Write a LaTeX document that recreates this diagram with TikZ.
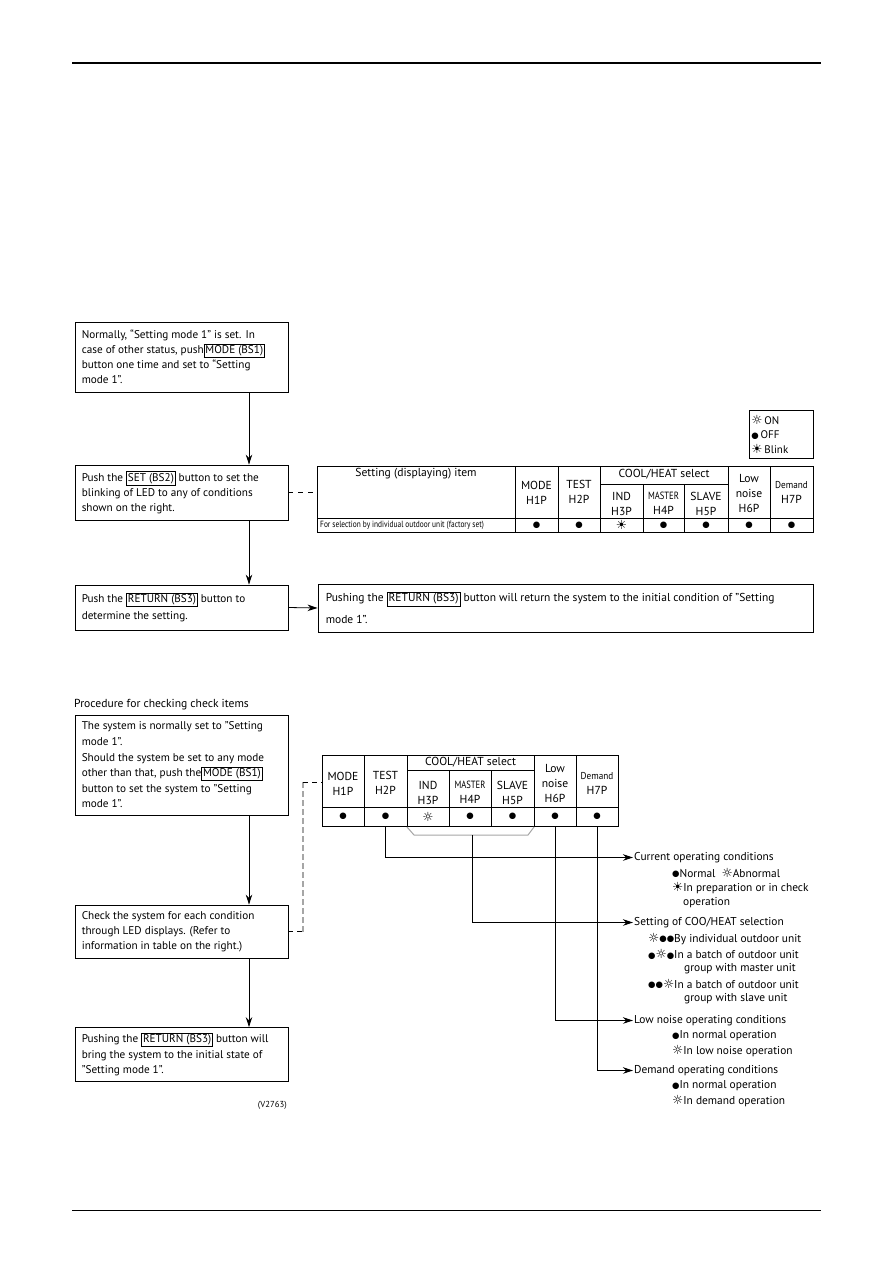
\documentclass[tikz,border=0pt]{standalone}
\usepackage{fontspec}
\setmainfont{PT Sans}
\newfontfamily\symf{DejaVu Sans}
\usetikzlibrary{arrows.meta}
\newcommand\onS{{\symf\fontsize{12.5}{12.5}\selectfont ☼}}
\newcommand\offS{\raisebox{0.6pt}{\symf\fontsize{8.5}{8.5}\selectfont ●}}
\newcommand\blinkS{{\symf\fontsize{12.5}{12.5}\selectfont ☀}}
\newcommand\btn[1]{{\setlength\fboxsep{1.2pt}\setlength\fboxrule{0.6pt}\fbox{#1}}}
\newcommand\cond[2]{\scalebox{#1}[1]{#2}}
\begin{document}
\begin{tikzpicture}[x=1pt,y=-1pt,
  boxr/.style={draw, line width=0.9pt, minimum width=213pt, inner sep=0pt},
  btext/.style={anchor=west, inner sep=0pt, align=left, font=\fontsize{11.2}{15}\selectfont},
  arr/.style={-{Stealth[length=10pt,width=6.5pt]}, line width=0.8pt},
  tl/.style={line width=0.7pt},
  hd/.style={align=center, inner sep=0pt, font=\fontsize{11.6}{15}\selectfont},
  cell/.style={minimum width=42pt, minimum height=19pt, inner sep=0pt},
  lab/.style={anchor=west, inner sep=1pt, font=\fontsize{11.4}{15}\selectfont},
  sub/.style={anchor=west, inner sep=0pt, font=\fontsize{11.4}{15}\selectfont}]
\useasboundingbox (0,0) rectangle (893,1263);
\fill[white] (0,0) rectangle (893,1263);
% page rules
\draw[line width=1.2pt] (72,63) -- (821,63);
\draw[line width=0.8pt] (72,1210) -- (821,1210);

% ---- Section 1 ----
\node[boxr, minimum height=70pt] (b1) at (181.5,357) {};
\node[btext] (b1t) at ([xshift=7pt]b1.west) {Normally, “Setting mode 1” is set. In\\case of other status, push\btn{MODE (BS1)}\\button one time and set to “Setting\\mode 1”.};
\node[boxr, minimum height=55pt] (b2) at (181.5,492.5) {};
\node[btext] (b2t) at ([xshift=7pt]b2.west) {Push the \btn{SET (BS2)} button to set the\\blinking of LED to any of conditions\\shown on the right.};
\node[boxr, minimum height=45pt] (b3) at (181.5,607.5) {};
\node[btext, font=\fontsize{11.2}{17}\selectfont] (b3t) at ([xshift=7pt]b3.west) {Push the \btn{RETURN (BS3)} button to\\determine the setting.};
\node[boxr, minimum width=495pt, minimum height=48pt] (b4) at (565.5,608) {};
\node[btext, font=\fontsize{11.5}{22}\selectfont] (b4t) at ([xshift=8pt]b4.west) {Pushing the \btn{RETURN (BS3)} button will return the system to the initial condition of "Setting\\mode 1".};
\draw[arr] ([xshift=67.5pt]b1.south) -- ([xshift=67.5pt]b2.north);
\draw[arr] ([xshift=67.5pt]b2.south) -- ([xshift=67.5pt]b3.north);
\draw[arr] (b3.east) -- (b4.west);

% legend
\node[draw, line width=0.7pt, anchor=north west, minimum width=64pt, minimum height=48pt, text width=60pt, inner sep=2pt, align=left, font=\fontsize{11}{14.2}\selectfont] (leg) at (749,410) {\onS\,ON\\\offS\,OFF\\\blinkS\,Blink};

% table 1
\node[draw, tl, anchor=north west, minimum width=496pt, minimum height=66pt, inner sep=0pt] (t1) at (317,466) {};
\draw[tl] (317,518) -- (813,518);
\foreach \x in {515,558,600,728,770} \draw[tl] (\x,466) -- (\x,532);
\foreach \x in {643,684} \draw[tl] (\x,484) -- (\x,532);
\draw[tl] (600,484) -- (728,484);
\draw[dashed, dash pattern=on 5pt off 5pt, line width=0.7pt] (b2.east) -- (b2.east -| t1.west);
\node[hd] (h1a) at (416,474) {Setting (displaying) item};
\node[hd] (h1b) at (536.5,493) {MODE\\H1P};
\node[hd] (h1c) at (579,492) {TEST\\H2P};
\node[hd] (h1d) at (664,474.5) {COOL/HEAT select};
\node[hd] (h1e) at (621.5,503.5) {IND\\H3P};
\node[hd] (h1f) at (663.5,503.5) {\cond{0.82}{\fontsize{10.5}{15}\selectfont MASTER}\\H4P};
\node[hd] (h1g) at (706,503.5) {SLAVE\\H5P};
\node[hd] (h1h) at (749,493.5) {Low\\noise\\H6P};
\node[hd] (h1i) at (791.5,492.5) {\cond{0.92}{\fontsize{10}{15}\selectfont Demand}\\H7P};
\node[anchor=west, inner sep=0pt] (r1) at (320,525) {\cond{0.82}{\fontsize{9}{9}\selectfont For selection by individual outdoor unit (factory set)}};
\node[cell] (d1a) at (536.5,525) {\offS};
\node[cell] (d1b) at (579,525) {\offS};
\node[cell] (d1c) at (621.5,525) {\blinkS};
\node[cell] (d1d) at (663.5,525) {\offS};
\node[cell] (d1e) at (706,525) {\offS};
\node[cell] (d1f) at (749,525) {\offS};
\node[cell] (d1g) at (791.5,525) {\offS};

% ---- Section 2 ----
\node[anchor=west, inner sep=0pt, font=\fontsize{11.6}{15}\selectfont] (proc) at (74,705) {Procedure for checking check items};
\node[boxr, minimum height=100pt] (b5) at (181.5,765) {};
\node[btext, font=\fontsize{11.2}{15.6}\selectfont] (b5t) at ([xshift=7pt]b5.west) {The system is normally set to "Setting\\mode 1".\\Should the system be set to any mode\\other than that, push the\btn{MODE (BS1)}\\button to set the system to "Setting\\mode 1".};
\node[boxr, minimum height=53pt] (b6) at (181.5,931.5) {};
\node[btext] (b6t) at ([xshift=7pt]b6.west) {Check the system for each condition\\through LED displays. (Refer to\\information in table on the right.)};
\node[boxr, minimum height=54pt] (b7) at (181.5,1054.5) {};
\node[btext, font=\fontsize{11.2}{15.5}\selectfont] (b7t) at ([xshift=7pt]b7.west) {Pushing the \btn{RETURN (BS3)} button will\\bring the system to the initial state of\\"Setting mode 1".};
\draw[arr] ([xshift=67.5pt]b5.south) -- ([xshift=67.5pt]b6.north);
\draw[arr] ([xshift=67.5pt]b6.south) -- ([xshift=67.5pt]b7.north);
\node[anchor=east, inner sep=0pt, font=\fontsize{8.7}{9}\selectfont] (vno) at (287,1105) {(V2763)};

% table 2
\node[draw, tl, anchor=north west, minimum width=296pt, minimum height=71pt, inner sep=0pt] (t2) at (322,755) {};
\draw[tl] (322,807) -- (618,807);
\foreach \x in {364,407,534,576} \draw[tl] (\x,755) -- (\x,826);
\foreach \x in {449,491} \draw[tl] (\x,770) -- (\x,826);
\draw[tl] (407,770) -- (534,770);
\node[hd] (h2b) at (343,783.5) {MODE\\H1P};
\node[hd] (h2c) at (385.5,782.5) {TEST\\H2P};
\node[hd] (h2d) at (470.5,762.5) {COOL/HEAT select};
\node[hd] (h2e) at (428,792.5) {IND\\H3P};
\node[hd] (h2f) at (470,792.5) {\cond{0.82}{\fontsize{10.5}{15}\selectfont MASTER}\\H4P};
\node[hd] (h2g) at (512.5,792.5) {SLAVE\\H5P};
\node[hd] (h2h) at (555,783) {Low\\noise\\H6P};
\node[hd] (h2i) at (597,783.5) {\cond{0.92}{\fontsize{10}{15}\selectfont Demand}\\H7P};
\node[cell] (m1) at (343,816.5) {\offS};
\node[cell] (m2) at (385.5,816.5) {\offS};
\node[cell] (m3) at (428,816.5) {\onS};
\node[cell] (m4) at (470,816.5) {\offS};
\node[cell] (m5) at (512.5,816.5) {\offS};
\node[cell] (m6) at (555,816.5) {\offS};
\node[cell] (m7) at (597,816.5) {\offS};

% dashed link box6 -> table2
\coordinate (g1) at (303,931.5);
\coordinate (g2) at (303,782);
\draw[dashed, dash pattern=on 5pt off 4pt, line width=0.7pt] (b6.east) -- (g1);
\draw[gray!70, dash pattern=on 6pt off 3pt, line width=1.2pt] (g1) -- (g2);
\draw[dashed, dash pattern=on 5pt off 4pt, line width=0.7pt] (g2) -- (g2 -| t2.west);

% right labels
\node[lab] (cur) at (633,857.5) {Current operating conditions};
\node[sub] at (672,873) {\offS Normal \ \onS Abnormal};
\node[sub] at (672,888) {\blinkS In preparation or in check};
\node[sub] at (683,903) {operation};
\node[lab] (sel) at (633,922.5) {Setting of COO/HEAT selection};
\node[sub] at (648,939) {\onS\offS\offS By individual outdoor unit};
\node[sub] at (648,954.5) {\offS\onS\offS In a batch of outdoor unit};
\node[sub] at (684,969) {group with master unit};
\node[sub] at (648,984) {\offS\offS\onS In a batch of outdoor unit};
\node[sub] at (684,999) {group with slave unit};
\node[lab] (low) at (633,1020.5) {Low noise operating conditions};
\node[sub] at (672,1036) {\offS In normal operation};
\node[sub] at (672,1051) {\onS In low noise operation};
\node[lab] (dem) at (633,1070.5) {Demand operating conditions};
\node[sub] at (672,1086) {\offS In normal operation};
\node[sub] at (672,1101.5) {\onS In demand operation};

% connectors
\coordinate (br) at (472.5,835);
\draw[gray!70, line width=1pt] (407,827) -- (414,835) -- (528,835) -- (534,827);
\draw[arr] (m2.south) |- (cur.west);
\draw[arr] (br) |- (sel.west);
\draw[arr] (m6.south) |- (low.west);
\draw[arr] (m7.south) |- (dem.west);
\end{tikzpicture}
\end{document}
